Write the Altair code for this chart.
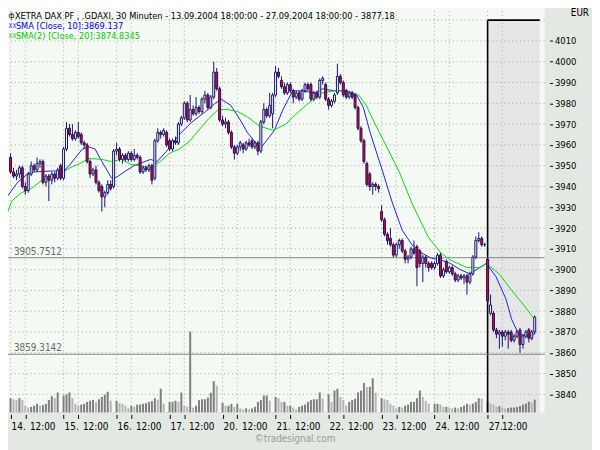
import altair as alt
import pandas as pd

FONT = "Liberation Sans Narrow, DejaVu Sans Condensed, Arial Narrow, sans-serif"
PLOT_BG = "#F4F9F4"
OUTER_BG = "#E3E8E3"
SHADE = "#E6E6E6"
NAVY = "#14146E"
RED = "#FF0000"
GRID = "#A8A8A8"
BLUE = "#1E1EF0"
GREEN = "#00DD00"

title_line = "XETRA DAX PF    , .GDAXI, 30 Minuten - 13.09.2004 18:00:00 - 27.09.2004 18:00:00 - 3877.18"
sma10_label = "SMA [Close, 10]:3869.137"
sma20_label = "SMA(2) [Close, 20]:3874.8345"
day_labels = ["14.", "15.", "16.", "17.", "20.", "21.", "22.", "23.", "24.", "27."]
noon_label = "12:00"
BARS_PER_DAY = 18
NOON_OFFSET = 5

opens = [
    3954,3947,3945,3946,3949,3940,3938,3946,3950,3948,3951,3952,3942,3945,3943,3946,3944,3950,
    3944,3958,3968,3965,3963,3966,3965,3961,3960,3952,3946,3948,3942,3940,3935,3937,3941,3940,
    3957,3958,3953,3955,3953,3956,3953,3955,3954,3947,3949,3948,3950,3944,3962,3966,3965,3966,
    3962,3958,3962,3961,3970,3973,3980,3972,3977,3975,3978,3976,3982,3984,3978,3983,3995,3987,
    3972,3970,3971,3966,3959,3956,3959,3960,3958,3961,3962,3959,3961,3957,3971,3977,3974,3975,
    3984,3995,3991,3988,3985,3989,3986,3983,3985,3982,3986,3989,3989,3982,3985,3983,3991,3989,
    3982,3979,3981,3985,3993,3990,3986,3983,3985,3984,3978,3968,3962,3951,3946,3940,3941,3940,
    3928,3924,3917,3915,3912,3907,3912,3914,3909,3905,3906,3910,3911,3909,3903,3906,3903,3903,
    3901,3903,3907,3897,3904,3899,3901,3898,3895,3897,3896,3897,3894,3898,3906,3914,3915,3912,
    3905,3879,3879,3871,3869,3870,3868,3870,3870,3866,3868,3871,3864,3868,3871,3867,3870,
]
highs = [
    3956,3949,3948,3950,3950,3942,3947,3952,3951,3954,3953,3953,3946,3946,3947,3947,3949,3951,
    3959,3971,3970,3970,3967,3971,3966,3962,3961,3953,3949,3950,3943,3941,3938,3943,3943,3958,
    3961,3959,3956,3956,3957,3957,3958,3956,3955,3950,3950,3951,3951,3963,3968,3967,3968,3967,
    3963,3963,3964,3971,3974,3981,3981,3984,3979,3983,3979,3983,3986,3985,3984,4000,3997,3988,
    3974,3973,3972,3967,3960,3960,3962,3961,3962,3963,3963,3962,3962,3972,3980,3978,3985,3985,
    3998,3997,3993,3990,3990,3990,3987,3986,3986,3987,3990,3990,3990,3986,3986,3992,3993,3990,
    3983,3982,3985,3999,3994,3991,3987,3986,3986,3985,3979,3969,3963,3952,3947,3942,3942,3941,
    3931,3925,3918,3920,3913,3913,3915,3915,3910,3907,3911,3914,3912,3910,3907,3907,3904,3904,
    3904,3908,3908,3901,3905,3902,3902,3899,3898,3898,3898,3898,3899,3907,3916,3918,3916,3913,
    3906,3888,3880,3872,3871,3871,3871,3871,3871,3869,3871,3872,3869,3871,3872,3871,3878,
]
lows = [
    3946,3944,3943,3944,3939,3936,3937,3945,3947,3947,3949,3941,3940,3933,3941,3942,3943,3943,
    3943,3957,3964,3962,3962,3963,3960,3958,3951,3944,3945,3941,3937,3928,3930,3936,3938,3939,
    3955,3952,3951,3952,3952,3952,3952,3953,3946,3946,3947,3947,3941,3943,3961,3963,3964,3959,
    3957,3957,3960,3960,3969,3972,3971,3971,3974,3974,3975,3975,3980,3977,3977,3982,3986,3971,
    3969,3968,3965,3958,3953,3955,3957,3956,3957,3959,3958,3958,3955,3956,3970,3973,3973,3968,
    3983,3992,3987,3984,3984,3985,3980,3982,3981,3981,3985,3986,3981,3981,3982,3982,3989,3981,
    3977,3978,3980,3984,3989,3983,3982,3982,3982,3977,3967,3961,3951,3940,3938,3936,3938,3937,
    3923,3916,3912,3911,3906,3906,3910,3908,3903,3903,3905,3907,3892,3901,3894,3901,3899,3900,
    3900,3902,3896,3896,3898,3898,3897,3894,3894,3895,3893,3888,3893,3897,3905,3913,3911,3911,
    3884,3878,3870,3867,3862,3863,3866,3862,3865,3865,3867,3860,3862,3867,3865,3866,3869,
]
closes = [
    3947,3945,3946,3949,3940,3938,3946,3950,3948,3951,3952,3942,3945,3943,3946,3944,3948,3944,
    3958,3968,3965,3963,3966,3964,3961,3960,3952,3946,3948,3942,3938,3935,3937,3941,3939,3957,
    3958,3953,3955,3953,3956,3953,3955,3954,3947,3949,3948,3950,3943,3962,3966,3965,3967,3960,
    3958,3962,3961,3970,3973,3980,3972,3977,3975,3978,3976,3982,3984,3978,3983,3995,3987,3972,
    3970,3971,3966,3959,3956,3959,3961,3958,3961,3960,3959,3961,3957,3971,3977,3974,3979,3984,
    3995,3993,3988,3985,3989,3986,3983,3985,3982,3986,3989,3987,3982,3985,3983,3991,3992,3982,
    3979,3981,3984,3993,3990,3984,3983,3985,3983,3978,3968,3962,3952,3941,3940,3941,3940,3939,
    3924,3917,3914,3912,3907,3912,3914,3909,3905,3906,3910,3908,3901,3903,3906,3903,3901,3901,
    3903,3907,3897,3900,3899,3901,3898,3895,3897,3896,3897,3894,3898,3906,3914,3915,3912,3912,
    3885,3883,3871,3869,3870,3868,3870,3869,3866,3868,3870,3864,3868,3870,3867,3870,3877.18,
]
volumes = [
    14.5,13.4,12.6,14.5,12.6,6.9,5.0,5.7,6.9,8.8,6.9,7.5,8.8,12.6,16.5,14.5,20.3,0.5,
    17.2,18.4,20.3,14.5,8.8,6.9,8.0,8.8,10.7,11.9,12.6,10.7,13.4,15.7,18.0,21.0,12.0,0.5,
    11.9,9.6,8.8,6.9,4.2,6.9,5.7,8.0,8.0,8.8,9.5,10.7,11.5,14.5,13.0,24.1,9.0,0.5,
    10.7,10.7,11.9,10.7,20.3,6.9,6.0,82.0,5.0,6.9,12.6,13.4,13.4,15.0,20.0,31.8,27.2,0.5,
    9.6,6.9,6.9,8.8,5.7,8.8,4.2,3.1,4.2,3.1,4.0,5.7,10.7,12.6,17.2,17.2,12.0,0.5,
    15.7,14.5,10.7,10.7,6.9,6.9,5.0,3.1,5.7,6.9,8.0,10.7,12.6,13.4,13.4,20.3,14.0,0.5,
    18.4,10.7,22.2,24.1,15.7,12.6,6.9,10.7,12.6,14.0,20.3,22.2,29.9,26.0,26.0,34.8,20.0,0.5,
    14.5,13.4,12.6,8.8,6.9,4.2,5.7,5.0,6.9,8.0,10.7,10.7,14.5,22.2,15.7,11.9,9.0,0.5,
    8.8,8.8,8.0,5.7,5.7,5.0,4.2,5.0,4.2,5.5,6.9,8.8,8.0,9.0,10.7,14.5,14.0,0.5,
    11,9,8,6,6.5,5,4,4.5,5,5,5.5,6.5,8,9,11,10,13,
]
sma10_idx = [-1.2, 2.4, 5.7, 8, 14.6, 17.9, 20.2, 24.4, 26.7, 28.7, 31, 34.3, 36, 38.6, 41.9,
             47.5, 49.8, 53, 57.3, 61.6, 66.2, 69.5, 71.5, 74.8, 78, 80.4, 82.7, 84.6, 86.9,
             89.6, 92.5, 95.8, 99.1, 103.4, 106, 110, 114.2, 117.5, 119.8, 122.1, 126.4, 129.7,
             133, 136.3, 139.6, 142.9, 146.2, 149.4, 152.7, 156, 159.3, 161.6, 164.9, 168.2,
             170.2, 172.5, 175.8, 178]
sma10_val = [3935, 3942, 3946, 3947, 3947.5, 3947, 3950.6, 3958, 3959, 3958, 3952, 3944, 3944.5,
             3947, 3950, 3953, 3952, 3957, 3965, 3971, 3976, 3980, 3982, 3979, 3972, 3966, 3962,
             3958, 3962, 3967, 3977, 3986, 3986, 3985, 3987, 3986, 3986, 3984, 3978, 3966, 3947,
             3932, 3919, 3912, 3908, 3905.5, 3904.6, 3903, 3900, 3898, 3901, 3903, 3896.5, 3886,
             3876, 3869, 3868, 3869.1]
sma20_idx = [-1.2, 0.4, 3.7, 7, 10.3, 13.6, 16.9, 20.2, 23.5, 26.7, 31, 34.3, 37.6, 40.9, 44.2,
             47.5, 50.8, 54, 57.3, 60.6, 63.9, 67.2, 70.5, 73.8, 77.1, 80.4, 84.6, 89.2, 93.5,
             97.8, 102.4, 105.7, 110, 114.2, 118.2, 120.8, 123.1, 127.4, 132, 136.3, 141.9,
             146.2, 149.4, 155, 159.3, 161.6, 165.9, 170.2, 174.8, 178]
sma20_val = [3927, 3933, 3937, 3939, 3942.6, 3945, 3946, 3949, 3951, 3953.5, 3953, 3952, 3953,
             3950.6, 3950, 3949, 3952, 3956, 3958, 3961.5, 3967, 3972.5, 3977, 3977, 3976,
             3973.5, 3969, 3967, 3970, 3976, 3981.5, 3985, 3986, 3986, 3984, 3979, 3972, 3960,
             3947, 3932, 3915.5, 3908, 3904.6, 3901, 3901, 3903, 3898, 3890, 3882, 3876]
levels = [3905.7512, 3859.3142]
price_ticks = list(range(3840, 4011, 10))
grid_prices = list(range(3840, 4021, 10))

n = len(closes)
df = pd.DataFrame({"i": list(range(n)), "o": opens, "h": highs, "l": lows, "c": closes, "v": volumes})
df["shade"] = ["dark" if k == 0 or volumes[k] >= volumes[k - 1] else "light" for k in range(n)]

day_start = [BARS_PER_DAY * d for d in range(len(day_labels))]
noon = [s + NOON_OFFSET for s in day_start]
tick_vals = sorted(day_start + noon)

X_MIN, X_MAX = -1.875, 179.7
Y_MIN, Y_MAX = 3831.3, 4028.2
xs = alt.Scale(domain=[X_MIN, X_MAX], nice=False, zero=False)
ys = alt.Scale(domain=[Y_MIN, Y_MAX], nice=False, zero=False)
x_axis = alt.Axis(orient="bottom", values=tick_vals, labels=False, title=None, domain=False,
                  grid=False, tickSize=4, tickColor="black", offset=2)
y_axis = alt.Axis(orient="right", values=price_ticks, format="d", title=None, domain=False,
                  grid=False, tickSize=3, tickColor="black", offset=5, labelPadding=2,
                  labelFont=FONT, labelFontSize=9.5, labelColor="black")


def X(field):
    return alt.X(field, scale=xs, axis=x_axis)


def Yb(field):
    return alt.Y(field, scale=ys, axis=None)


def Yf(field):
    return alt.Y(field, scale=ys, axis=y_axis)


# ---------- background (price scale, no axis) ----------
shade_df = pd.DataFrame({"x": [day_start[-1]], "x2": [X_MAX], "y": [grid_prices[-1]], "y2": [Y_MIN]})
shade_rect = alt.Chart(shade_df).mark_rect(color=SHADE).encode(
    x=X("x:Q"), x2="x2:Q", y=Yb("y:Q"), y2="y2:Q")
hgrid = alt.Chart(pd.DataFrame({"p": grid_prices})).mark_rule(
    color=GRID, strokeDash=[1, 3], strokeWidth=1).encode(y=Yb("p:Q"))
vgrid = alt.Chart(pd.DataFrame({"t": tick_vals})).mark_rule(
    color=GRID, strokeDash=[1, 3], strokeWidth=1).encode(x=X("t:Q"))
bg = alt.layer(shade_rect, hgrid, vgrid)

# ---------- volume ----------
vol = alt.Chart(df).mark_bar(size=2, orient="vertical").encode(
    x=X("i:Q"),
    y=alt.Y("v:Q", scale=alt.Scale(domain=[0, 415], nice=False), axis=None, stack=None),
    color=alt.Color("shade:N", scale=alt.Scale(domain=["dark", "light"], range=["#7E7E7E", "#B4B4B4"]),
                    legend=None),
)

# ---------- foreground (price scale with axis) ----------
vline = alt.Chart(shade_df).mark_rule(color="black", strokeWidth=1.6).encode(
    x=X("x:Q"), y=Yf("y:Q"), y2="y2:Q")
hline = alt.Chart(shade_df).mark_rule(color="black", strokeWidth=1.6).encode(
    x=X("x:Q"), x2="x2:Q", y=Yf("y:Q"))
lev_df = pd.DataFrame({"lv": levels, "lab": [f"{v:.4f}" for v in levels]})
lev_rules = alt.Chart(lev_df).mark_rule(color="#858585", strokeWidth=1).encode(y=Yf("lv:Q"))
lev_text = alt.Chart(lev_df).mark_text(align="left", baseline="alphabetic", dy=-3, font=FONT,
                                       fontSize=10, color="#6A6A6A").encode(
    x=alt.value(14), y=Yf("lv:Q"), text="lab:N")
s10 = alt.Chart(pd.DataFrame({"i": sma10_idx, "s": sma10_val})).mark_line(
    color=BLUE, strokeWidth=1, clip=True).encode(x=X("i:Q"), y=Yf("s:Q"))
s20 = alt.Chart(pd.DataFrame({"i": sma20_idx, "s": sma20_val})).mark_line(
    color=GREEN, strokeWidth=1, clip=True).encode(x=X("i:Q"), y=Yf("s:Q"))
wicks = alt.Chart(df).mark_rule(color=NAVY, strokeWidth=1).encode(
    x=X("i:Q"), y=Yf("l:Q"), y2="h:Q")
bodies = alt.Chart(df).mark_bar(size=2, stroke=NAVY, strokeWidth=1).encode(
    x=X("i:Q"), y=Yf("o:Q"), y2="c:Q",
    fill=alt.condition("datum.c < datum.o", alt.value(RED), alt.value(PLOT_BG)))

day_df = pd.DataFrame({"lx": [s + 0.35 for s in day_start], "t": day_labels})
noon_pos = [p + 5.9 for p in noon[:-1]] + [noon[-1] + 4.2]
noon_df = pd.DataFrame({"lx": noon_pos, "t": [noon_label] * len(noon)})
day_txt = alt.Chart(day_df).mark_text(align="left", baseline="middle", font=FONT, fontSize=10,
                                      color="black").encode(x=X("lx:Q"), y=alt.value(430), text="t:N")
noon_txt = alt.Chart(noon_df).mark_text(align="center", baseline="middle", font=FONT, fontSize=10,
                                        color="black").encode(x=X("lx:Q"), y=alt.value(430), text="t:N")


def label(text, x, y, color, align="left", size=9.3):
    return alt.Chart(pd.DataFrame({"t": [text]})).mark_text(
        align=align, baseline="middle", font=FONT, fontSize=size, color=color).encode(
        x=alt.value(x), y=alt.value(y), text="t:N")


legend = [
    label("ф", 8.5, 13, "black", size=8),
    label(title_line, 15, 13, "black"),
    label("XX", 8.5, 23, BLUE, size=6.5),
    label(sma10_label, 16, 23, "#0000E0"),
    label("XX", 8.5, 33, "#00C800", size=6.5),
    label(sma20_label, 16, 33, "#00C800"),
    label("EUR", 597, 10, "black", align="right", size=10),
    label("©tradesignal.com", 299, 442, "#9A9A9A", align="center", size=10),
]

fg = alt.layer(vline, hline, lev_rules, lev_text, s10, s20, wicks, bodies, day_txt, noon_txt, *legend)

chart = alt.layer(bg, vol, fg).resolve_scale(y="independent").properties(
    width=552, height=415,
    autosize=alt.AutoSizeParams(type="none"),
    padding={"left": -8, "top": -8, "right": 48, "bottom": 35},
    background=OUTER_BG,
).configure_view(fill=PLOT_BG, strokeWidth=0)

chart.save("out.html", embed_options={"renderer": "svg", "actions": False})
